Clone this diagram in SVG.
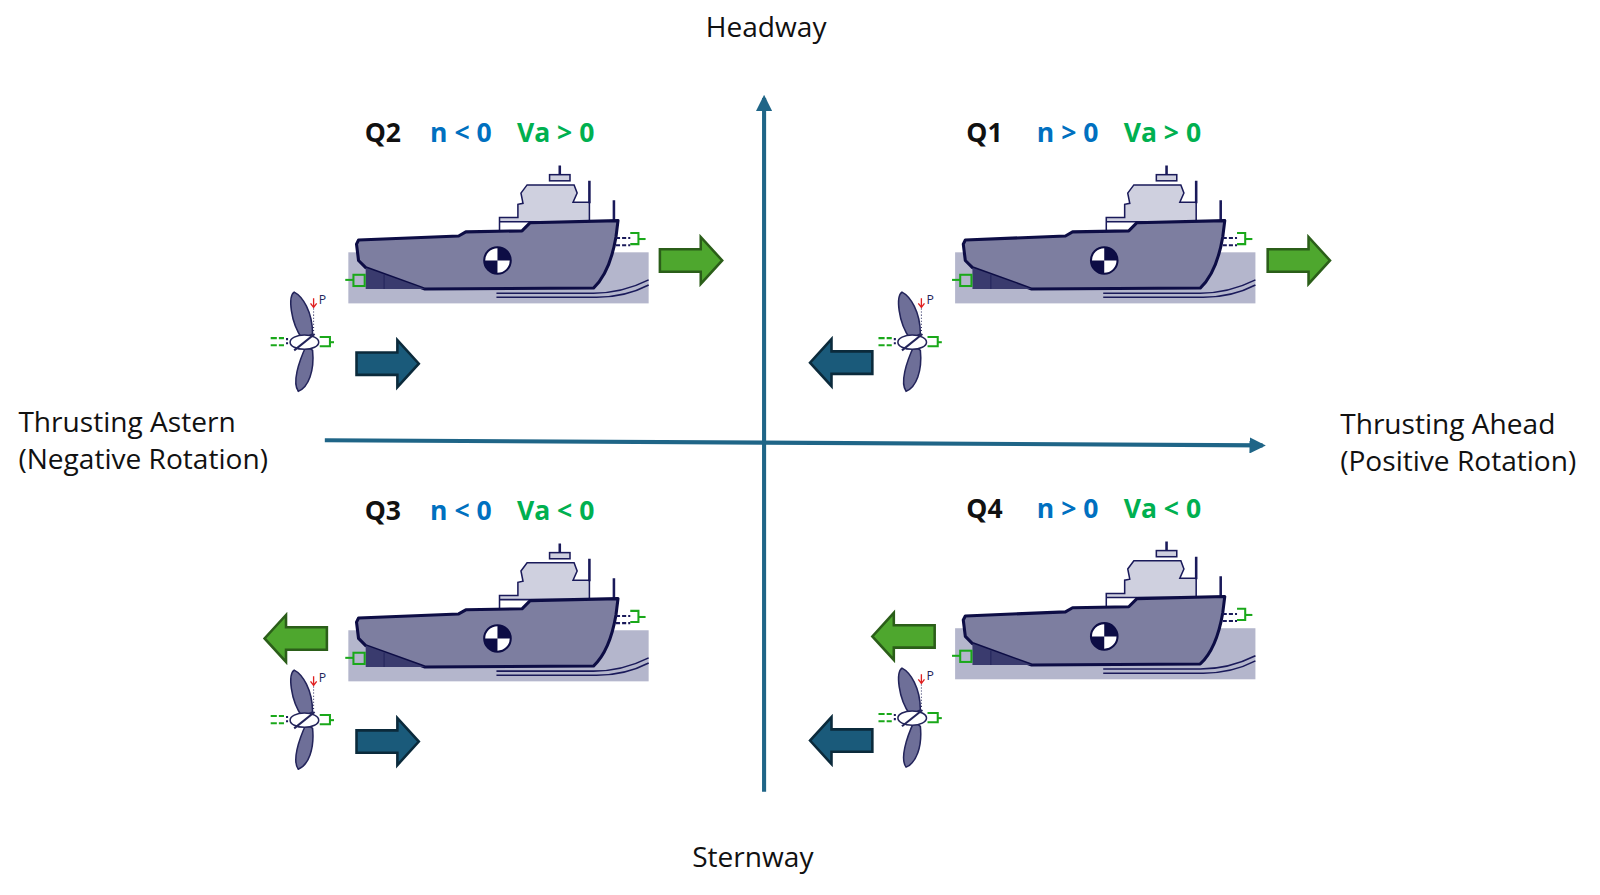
<svg xmlns="http://www.w3.org/2000/svg" width="1600" height="895" viewBox="0 0 1600 895" xmlns:xlink="http://www.w3.org/1999/xlink">
<style>
text{font-family:"Open Sans","Liberation Sans",sans-serif;font-size:27.5px;fill:#111}
.q{font-weight:bold;font-size:26px}
.n{font-weight:bold;fill:#0070C0;font-size:26px}
.va{font-weight:bold;fill:#00B050;font-size:26px}
.ax{stroke:#1f6587;stroke-width:4;fill:none}
.ga{fill:#4EA72E;stroke:#2b5e19;stroke-width:2.5}
.ba{fill:#1a5a7a;stroke:#0b2a3b;stroke-width:2.5}
.gr{stroke:#1aa81a;stroke-width:2;fill:none}
</style>
<defs>
<marker id="ah" viewBox="0 0 10 10" refX="8" refY="5" markerWidth="4" markerHeight="4" orient="auto"><path d="M0,0L10,5L0,10z" fill="#1f6587"/></marker>
<path id="arR" d="M0,12H40V0L61,23L40,46V34H0z"/>
<path id="arL" d="M61,12H21V0L0,23L21,46V34H61z"/>
<g id="ship">
<rect x="0" y="0" width="294" height="50" fill="#b4b6cc"/>
<path d="M145,40H240Q268,40 294,27M145,44H243Q271,44 294,32" stroke="#1a1a5a" stroke-width="1.5" fill="none"/>
<path d="M148,-20V-34H166V-47L171,-48L169,-58L175,-66H221L224,-58L220,-49H236V-30H148z" fill="#cfd0df" stroke="#1a1a5a" stroke-width="1.5"/>
<rect x="197" y="-76" width="20" height="6" fill="#cfd0df" stroke="#1a1a5a" stroke-width="1.5"/>
<path d="M207,-76V-85M236,-48V-70M260,-31V-51" stroke="#1a1a5a" stroke-width="2.5"/>
<path d="M10,-12L108,-16L115,-20L170,-21L178,-29L264,-31L262,-15Q256,20 240,35L75,36L17,15L10,8L8,-8z" fill="#7d7ea0" stroke="#0d0d45" stroke-width="3" stroke-linejoin="round"/>
<path d="M17,15L75,36H17z" fill="#3a3b6e"/>
<path d="M35,22V36" stroke="#23245a" stroke-width="1"/>
<circle cx="146" cy="8" r="13" fill="#fff" stroke="#0d0d45" stroke-width="2"/>
<path d="M146,8V-5A13,13 0 0 1 159,8zM146,8V21A13,13 0 0 1 133,8z" fill="#0d0d45"/>
<rect x="5" y="22" width="11" height="11" class="gr"/>
<path d="M-3,27H5" class="gr"/>
<path d="M262,-14H276M262,-7H276" stroke="#1a1a5a" stroke-width="2" stroke-dasharray="4,2"/>
<path d="M276,-19H284V-8H276" class="gr"/>
<path d="M284,-13H291" class="gr"/>
</g>
<g id="prop">
<path d="M-2,-3C-14,-20 -16,-45 -10,-49C-2,-45 8,-30 8,-8z" fill="#6e6f98" stroke="#23245a" stroke-width="1.5"/>
<path d="M2,3C-6,20 -12,40 -6,48C4,44 10,28 8,8z" fill="#6e6f98" stroke="#23245a" stroke-width="1.5"/>
<ellipse cx="0" cy="0" rx="14" ry="7" fill="#fff" stroke="#23245a" stroke-width="1.5"/>
<path d="M-10,8L10,-8" stroke="#23245a" stroke-width="2"/>
<path d="M-33,-4H-20M-33,3H-20" stroke="#1aa81a" stroke-width="2" stroke-dasharray="6,2"/>
<path d="M-17,-4V3" stroke="#1a1a5a" stroke-width="2" stroke-dasharray="2,2"/>
<path d="M15,-5H25V4H15" class="gr"/>
<path d="M25,0H29" class="gr"/>
<path d="M9,-43V-34M6,-38L9,-34L12,-38" stroke="#e02020" stroke-width="1.3" fill="none"/>
<path d="M9,-33V-10" stroke="#23245a" stroke-width="1" stroke-dasharray="1,2"/>
<text x="14" y="-37" style="font-size:12px;fill:#23245a">P</text>
</g>
</defs>
<g transform="scale(1.0215)">
<g id="connectors">
<path class="ax" d="M748,775V96" marker-end="url(#ah)"/>
<path class="ax" d="M318,431L1236,436" marker-end="url(#ah)"/>
</g>
<g id="axis-labels">
<text x="750" y="36" text-anchor="middle">Headway</text>
<text x="737" y="849" text-anchor="middle">Sternway</text>
<text x="18" y="423">Thrusting Astern</text>
<text x="18" y="459">(Negative Rotation)</text>
<text x="1312" y="425">Thrusting Ahead</text>
<text x="1312" y="461">(Positive Rotation)</text>
</g>
<g id="q2">
<text x="357" y="139" class="q">Q2</text><text x="421" y="139" class="n">n &lt; 0</text><text x="506" y="139" class="va">Va &gt; 0</text>
<use xlink:href="#ship" x="341" y="247"/><use xlink:href="#prop" x="298" y="335"/>
<use xlink:href="#arR" x="646" y="232" class="ga"/><use xlink:href="#arR" x="349" y="333" class="ba"/>
</g>
<g id="q1">
<text x="946" y="139" class="q">Q1</text><text x="1015" y="139" class="n">n &gt; 0</text><text x="1100" y="139" class="va">Va &gt; 0</text>
<use xlink:href="#ship" x="935" y="247"/><use xlink:href="#prop" x="893" y="335"/>
<use xlink:href="#arR" x="1241" y="232" class="ga"/><use xlink:href="#arL" x="793" y="332" class="ba"/>
</g>
<g id="q3">
<text x="357" y="509" class="q">Q3</text><text x="421" y="509" class="n">n &lt; 0</text><text x="506" y="509" class="va">Va &lt; 0</text>
<use xlink:href="#ship" x="341" y="617"/><use xlink:href="#prop" x="298" y="705"/>
<use xlink:href="#arL" x="259" y="602" class="ga"/><use xlink:href="#arR" x="349" y="703" class="ba"/>
</g>
<g id="q4">
<text x="946" y="507" class="q">Q4</text><text x="1015" y="507" class="n">n &gt; 0</text><text x="1100" y="507" class="va">Va &lt; 0</text>
<use xlink:href="#ship" x="935" y="615"/><use xlink:href="#prop" x="893" y="703"/>
<use xlink:href="#arL" x="854" y="600" class="ga"/><use xlink:href="#arL" x="793" y="702" class="ba"/>
</g>
</g>
</svg>
